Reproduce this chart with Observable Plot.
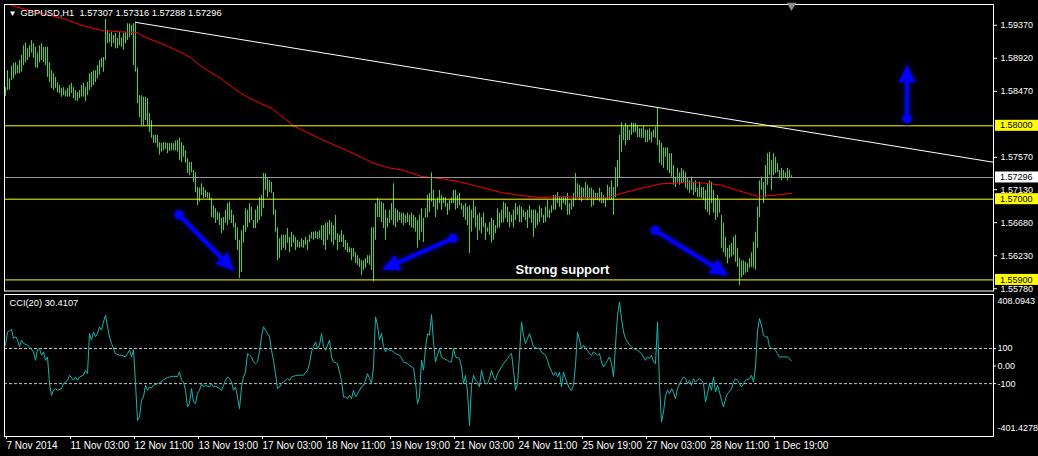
<!DOCTYPE html>
<html><head><meta charset="utf-8">
<script src="https://cdn.jsdelivr.net/npm/d3@7"></script>
<script src="https://cdn.jsdelivr.net/npm/@observablehq/plot@0.6"></script>
<style>
html,body{margin:0;padding:0;background:#000;}
#wrap{position:relative;width:1038px;height:456px;background:#000;overflow:hidden;font-family:"Liberation Sans",Arial,sans-serif;}
#wrap svg{position:absolute;left:0;}
#wrap svg text{white-space:pre;}
</style>
</head><body><div id="wrap"></div>
<script>
// ---------- data ----------
const symbolName = "GBPUSD,H1";
const lastOHLC = [1.57307, 1.57316, 1.57288, 1.57296];
const bidPrice = 1.57296;
const levelPrices = [1.5800, 1.5700, 1.5590];
const priceTicks = [1.5937, 1.5892, 1.5847, 1.5757, 1.5713, 1.5668, 1.5623, 1.5578];
const priceView = [1.55749, 1.59653];

const barHigh = [
1.5852,1.5875,1.5864,1.5881,1.5885,1.5886,1.5882,1.5889,1.5896,1.5909,
1.5913,1.5905,1.5909,1.5916,1.5912,1.5907,1.5899,1.5909,1.5912,1.5907,
1.5907,1.5907,1.5886,1.5875,1.5871,1.5866,1.5859,1.5855,1.5851,1.5852,
1.5848,1.5851,1.5855,1.5858,1.5852,1.5848,1.5845,1.5848,1.5855,1.5858,
1.5852,1.5859,1.5871,1.5873,1.5875,1.5875,1.5882,1.5889,1.5892,1.5893,
1.5945,1.5930,1.5926,1.5927,1.5923,1.5926,1.5919,1.5927,1.5920,1.5926,
1.5927,1.5939,1.5939,1.5937,1.5939,1.5941,1.5879,1.5841,1.5841,1.5839,
1.5839,1.5837,1.5817,1.5807,1.5787,1.5787,1.5787,1.5777,1.5776,1.5777,
1.5777,1.5776,1.5776,1.5776,1.5776,1.5779,1.5780,1.5783,1.5777,1.5773,
1.5766,1.5755,1.5750,1.5750,1.5739,1.5736,1.5716,1.5715,1.5721,1.5716,
1.5712,1.5709,1.5708,1.5701,1.5691,1.5687,1.5682,1.5681,1.5674,1.5675,
1.5685,1.5694,1.5696,1.5685,1.5678,1.5667,1.5661,1.5644,1.5657,1.5664,
1.5687,1.5685,1.5694,1.5689,1.5671,1.5685,1.5691,1.5702,1.5705,1.5735,
1.5735,1.5728,1.5725,1.5723,1.5709,1.5685,1.5661,1.5646,1.5651,1.5651,
1.5651,1.5660,1.5648,1.5655,1.5651,1.5648,1.5644,1.5641,1.5646,1.5644,
1.5648,1.5644,1.5651,1.5655,1.5655,1.5656,1.5655,1.5657,1.5664,1.5664,
1.5667,1.5668,1.5671,1.5668,1.5664,1.5678,1.5653,1.5651,1.5657,1.5651,
1.5644,1.5640,1.5634,1.5633,1.5633,1.5627,1.5623,1.5619,1.5616,1.5616,
1.5619,1.5623,1.5623,1.5661,1.5661,1.5694,1.5701,1.5698,1.5696,1.5694,
1.5685,1.5674,1.5685,1.5694,1.5721,1.5687,1.5685,1.5682,1.5681,1.5681,
1.5678,1.5681,1.5678,1.5681,1.5678,1.5675,1.5671,1.5678,1.5687,1.5674,
1.5687,1.5705,1.5708,1.5736,1.5712,1.5698,1.5702,1.5712,1.5705,1.5702,
1.5702,1.5694,1.5698,1.5702,1.5712,1.5712,1.5705,1.5708,1.5694,1.5691,
1.5694,1.5689,1.5691,1.5685,1.5698,1.5689,1.5678,1.5681,1.5675,1.5681,
1.5667,1.5661,1.5668,1.5674,1.5671,1.5664,1.5687,1.5681,1.5685,1.5696,
1.5694,1.5689,1.5682,1.5678,1.5685,1.5694,1.5689,1.5691,1.5689,1.5685,
1.5682,1.5685,1.5691,1.5685,1.5685,1.5685,1.5681,1.5691,1.5687,1.5678,
1.5689,1.5698,1.5685,1.5691,1.5705,1.5705,1.5709,1.5702,1.5702,1.5702,
1.5702,1.5708,1.5694,1.5698,1.5708,1.5735,1.5721,1.5719,1.5716,1.5715,
1.5723,1.5719,1.5715,1.5715,1.5712,1.5708,1.5708,1.5715,1.5709,1.5705,
1.5701,1.5719,1.5716,1.5725,1.5716,1.5743,1.5753,1.5787,1.5804,1.5798,
1.5803,1.5800,1.5794,1.5804,1.5803,1.5803,1.5800,1.5796,1.5796,1.5800,
1.5794,1.5794,1.5796,1.5791,1.5794,1.5798,1.5825,1.5780,1.5776,1.5770,
1.5770,1.5770,1.5762,1.5762,1.5746,1.5730,1.5742,1.5736,1.5742,1.5739,
1.5736,1.5728,1.5725,1.5730,1.5723,1.5725,1.5715,1.5723,1.5716,1.5716,
1.5712,1.5721,1.5725,1.5723,1.5712,1.5701,1.5705,1.5698,1.5678,1.5667,
1.5648,1.5633,1.5637,1.5640,1.5648,1.5651,1.5633,1.5619,1.5616,1.5616,
1.5614,1.5612,1.5619,1.5627,1.5641,1.5655,1.5689,1.5725,1.5730,1.5723,
1.5746,1.5762,1.5764,1.5753,1.5762,1.5757,1.5749,1.5739,1.5742,1.5739,
1.5736,1.5742,1.5739,1.5732];

const barLow = [
1.5840,1.5848,1.5849,1.5862,1.5864,1.5869,1.5871,1.5871,1.5873,1.5882,
1.5886,1.5889,1.5893,1.5899,1.5892,1.5879,1.5878,1.5886,1.5889,1.5886,
1.5882,1.5866,1.5859,1.5851,1.5848,1.5851,1.5845,1.5844,1.5839,1.5841,
1.5839,1.5839,1.5839,1.5844,1.5837,1.5834,1.5833,1.5837,1.5839,1.5839,
1.5833,1.5841,1.5848,1.5852,1.5855,1.5859,1.5864,1.5869,1.5879,1.5873,
1.5889,1.5912,1.5913,1.5907,1.5912,1.5905,1.5905,1.5909,1.5907,1.5903,
1.5912,1.5916,1.5920,1.5923,1.5882,1.5873,1.5830,1.5811,1.5800,1.5800,
1.5807,1.5800,1.5791,1.5783,1.5776,1.5776,1.5770,1.5760,1.5764,1.5766,
1.5768,1.5762,1.5765,1.5766,1.5766,1.5766,1.5764,1.5753,1.5750,1.5757,
1.5749,1.5735,1.5732,1.5736,1.5723,1.5709,1.5691,1.5696,1.5705,1.5701,
1.5702,1.5701,1.5698,1.5675,1.5674,1.5667,1.5671,1.5664,1.5653,1.5657,
1.5667,1.5664,1.5671,1.5667,1.5661,1.5644,1.5630,1.5592,1.5600,1.5640,
1.5655,1.5661,1.5667,1.5671,1.5660,1.5660,1.5667,1.5671,1.5676,1.5687,
1.5712,1.5702,1.5709,1.5708,1.5678,1.5655,1.5616,1.5619,1.5630,1.5633,
1.5630,1.5640,1.5627,1.5634,1.5640,1.5630,1.5634,1.5633,1.5634,1.5633,
1.5637,1.5630,1.5641,1.5646,1.5644,1.5646,1.5645,1.5646,1.5644,1.5637,
1.5630,1.5644,1.5651,1.5641,1.5637,1.5644,1.5630,1.5641,1.5641,1.5634,
1.5630,1.5627,1.5627,1.5616,1.5621,1.5612,1.5610,1.5607,1.5596,1.5603,
1.5606,1.5612,1.5610,1.5603,1.5587,1.5644,1.5675,1.5675,1.5668,1.5660,
1.5644,1.5661,1.5667,1.5671,1.5664,1.5661,1.5668,1.5671,1.5667,1.5664,
1.5667,1.5668,1.5664,1.5661,1.5660,1.5655,1.5633,1.5644,1.5655,1.5641,
1.5674,1.5675,1.5682,1.5696,1.5689,1.5675,1.5685,1.5694,1.5685,1.5694,
1.5689,1.5678,1.5685,1.5694,1.5694,1.5685,1.5687,1.5691,1.5685,1.5675,
1.5671,1.5664,1.5626,1.5655,1.5674,1.5661,1.5644,1.5657,1.5653,1.5661,
1.5644,1.5655,1.5651,1.5640,1.5644,1.5653,1.5660,1.5661,1.5667,1.5668,
1.5674,1.5668,1.5661,1.5668,1.5661,1.5671,1.5678,1.5668,1.5668,1.5675,
1.5671,1.5660,1.5674,1.5667,1.5648,1.5660,1.5664,1.5668,1.5675,1.5667,
1.5668,1.5675,1.5674,1.5681,1.5685,1.5685,1.5694,1.5689,1.5685,1.5694,
1.5691,1.5678,1.5678,1.5685,1.5689,1.5698,1.5701,1.5698,1.5696,1.5702,
1.5701,1.5698,1.5701,1.5689,1.5691,1.5698,1.5698,1.5696,1.5694,1.5694,
1.5689,1.5698,1.5698,1.5698,1.5678,1.5702,1.5716,1.5728,1.5764,1.5780,
1.5773,1.5780,1.5780,1.5787,1.5790,1.5791,1.5784,1.5784,1.5783,1.5783,
1.5777,1.5777,1.5780,1.5777,1.5784,1.5783,1.5773,1.5749,1.5746,1.5742,
1.5757,1.5739,1.5735,1.5730,1.5719,1.5716,1.5723,1.5719,1.5721,1.5723,
1.5715,1.5712,1.5708,1.5712,1.5705,1.5709,1.5702,1.5702,1.5701,1.5698,
1.5685,1.5682,1.5678,1.5694,1.5681,1.5671,1.5675,1.5681,1.5633,1.5627,
1.5621,1.5612,1.5619,1.5621,1.5623,1.5614,1.5607,1.5582,1.5593,1.5596,
1.5599,1.5600,1.5606,1.5607,1.5606,1.5603,1.5633,1.5675,1.5712,1.5694,
1.5702,1.5719,1.5732,1.5712,1.5732,1.5735,1.5736,1.5728,1.5725,1.5728,
1.5728,1.5725,1.5728,1.5729];

// moving average (red) read at selected bars
const maBar = [3,8,29,38,48,58,66,68,78,88,93,99,108,114,121,128,133,144,156,171,178,184,191,198,208,218,228,238,248,258,268,278,288,301,308,318,328,343,353,358,366,376,384,393];
const maPrice = [1.5964,1.5960,1.5946,1.5937,1.5930,1.5928,1.5927,1.5923,1.5912,1.5900,1.5892,1.5879,1.5864,1.5851,1.5839,1.5830,1.5824,1.5800,1.5784,1.5766,1.5757,1.5749,1.5743,1.5740,1.5731,1.5728,1.5723,1.5716,1.5709,1.5705,1.5702,1.5704,1.5702,1.5702,1.5708,1.5715,1.5721,1.5723,1.5721,1.5719,1.5712,1.5704,1.5705,1.5708];

// resistance trend line anchors (ray to the right)
const trendBar = [65, 326];
const trendPrice = [1.5941, 1.5825];

// blue arrows
const arrowFromBar = [87, 224, 325, 451];
const arrowFromPrice = [1.5678, 1.5646, 1.5657, 1.5809];
const arrowToBar = [114, 189, 361, 451];
const arrowToPrice = [1.5603, 1.5604, 1.5596, 1.5881];

const noteText = ["Strong support"];
const noteBar = [255];
const notePrice = [1.5604];

// CCI(20)
const cciName = "CCI(20)";
const cciRange = [-401.4278, 408.0943];
const cciLevels = [100, -100];
const cciBar = [0,1,2,3,4,5,6,7,8,9,11,12,14,15,16,17,18,19,20,21,22,23,24,25,26,28,29,31,32,34,35,36,37,39,40,41,42,43,44,45,46,47,48,49,50,51,52,53,55,57,58,60,61,62,63,64,65,66,67,68,69,70,71,72,73,74,76,78,79,81,82,84,86,87,88,89,90,91,92,93,94,95,96,97,98,99,100,102,103,104,105,107,108,109,110,111,112,113,114,115,116,117,118,119,120,121,122,123,124,125,126,127,128,129,130,131,132,133,134,135,136,137,138,139,141,142,143,144,146,148,149,151,152,153,154,155,156,157,158,159,160,161,162,163,164,166,167,168,169,170,171,172,173,174,175,177,178,179,180,181,182,183,184,185,186,187,188,189,190,191,192,193,195,197,198,199,201,202,204,205,206,207,208,209,210,211,212,213,214,215,216,217,218,219,221,222,223,224,225,227,228,229,230,231,232,233,234,235,236,237,238,239,240,241,242,243,244,245,246,248,249,251,252,253,254,255,256,257,258,259,260,261,262,263,264,266,267,268,270,271,272,274,275,276,277,278,279,280,281,282,283,284,285,286,287,288,289,290,291,292,293,294,296,297,298,299,300,301,302,303,304,305,306,307,308,309,310,312,313,314,316,318,319,320,321,322,323,324,325,326,327,328,329,330,331,332,333,334,335,336,337,338,339,340,341,342,343,344,345,346,347,348,349,350,351,352,353,354,355,356,357,358,359,360,361,363,364,365,366,367,368,369,370,372,373,374,375,376,377,378,379,380,381,382,383,384,385,386,387,389,391,393];
const cciValue = [119,195,201,209,157,167,148,110,148,129,119,110,81,33,94,100,62,81,33,52,-100,-167,-138,-128,-138,-128,-100,-81,-52,-81,-62,-81,-62,-52,-24,-43,186,148,195,167,186,224,205,252,290,224,167,129,71,62,62,52,71,90,52,94,-100,-310,-290,-195,-176,-110,-138,-119,-125,-110,-100,-90,-77,-66,-62,-58,-60,-33,-81,-90,-138,-233,-214,-128,-205,-214,-157,-138,-100,-119,-110,-119,-100,-119,-115,-128,-138,-110,-81,-62,-71,-90,-138,-119,-176,-243,-119,-62,-33,71,62,52,24,14,24,81,167,224,205,186,167,90,33,-43,-128,-119,-100,-90,-71,-81,-62,-58,-52,-52,-52,-24,14,81,110,138,100,120,186,110,90,119,148,52,24,14,-33,-81,-176,-176,-186,-167,-186,-138,-176,-138,-119,-110,-81,-43,-71,-100,-5,281,233,148,186,110,81,100,90,90,71,62,45,24,14,5,-10,-91,-214,-176,33,-24,100,185,176,294,138,24,62,100,52,43,33,24,24,100,52,43,-5,-100,-53,-148,-339,-110,-53,-81,-91,-119,-24,-72,-100,-100,-72,-24,-62,-81,-43,-5,14,43,62,71,-24,-138,-100,62,252,176,128,157,185,148,110,100,100,81,62,33,-5,-53,-34,-62,-34,-119,-34,-72,-100,-129,-138,-110,5,195,148,100,119,100,90,71,62,81,62,71,24,-5,14,33,52,14,-60,119,290,366,271,195,157,119,110,100,90,71,52,33,52,43,62,24,14,252,-110,-319,-262,-167,-138,-157,-129,-150,-186,-129,-100,-81,-62,-70,-100,-81,-110,-72,-91,-80,-72,-80,-100,-205,-157,-100,-138,-62,-148,-110,-148,-195,-233,-186,-157,-129,-91,-72,-81,-100,-119,-100,-81,-72,-53,-91,-5,200,271,233,176,167,167,110,100,100,90,71,52,52,52,30.4107];

// time axis
const timeTickBars = [0,32,64,96,128,160,192,224,256,288,320,352,384];
const timeTickLabels = ["7 Nov 2014","11 Nov 03:00","12 Nov 11:00","13 Nov 19:00","17 Nov 03:00","18 Nov 11:00","19 Nov 19:00","21 Nov 03:00","24 Nov 11:00","25 Nov 19:00","27 Nov 03:00","28 Nov 11:00","1 Dec 19:00"];

// ---------- build ----------
const xDomain = [-0.5, 494];
const FONT = '"Liberation Sans", Arial, sans-serif';
const bars = barHigh.map((h, i) => ({i, high: h, low: barLow[i]}));
const maRows = maBar.map((b, k) => ({b, p: maPrice[k]}));
const slope = (trendPrice[1] - trendPrice[0]) / (trendBar[1] - trendBar[0]);
const trendRows = [
  {b: trendBar[0], p: trendPrice[0]},
  {b: xDomain[1], p: trendPrice[0] + slope * (xDomain[1] - trendBar[0])}
];
const cciRows = cciBar.map((b, k) => ({b, v: cciValue[k]}));
const lastBar = barHigh.length - 1;

function arrowsMark(index, scales) {
  const g = d3.create("svg:g");
  const defs = g.append("defs");
  defs.append("filter").attr("id", "glow").attr("x", "-50%").attr("y", "-50%").attr("width", "200%").attr("height", "200%")
    .append("feGaussianBlur").attr("stdDeviation", 2);
  for (let k = 0; k < arrowFromBar.length; k++) {
    const x1 = scales.x(arrowFromBar[k]), y1 = scales.y(arrowFromPrice[k]);
    const x2 = scales.x(arrowToBar[k]), y2 = scales.y(arrowToPrice[k]);
    const dx = x2 - x1, dy = y2 - y1, len = Math.hypot(dx, dy), ux = dx / len, uy = dy / len;
    const hl = 16, hw = 7.5;
    const bx = x2 - ux * hl, by = y2 - uy * hl;
    const tri = `${x2},${y2} ${bx - uy * hw},${by + ux * hw} ${bx + uy * hw},${by - ux * hw}`;
    for (const layer of ["glow", "main"]) {
      const gg = g.append("g");
      if (layer === "glow") gg.attr("filter", "url(#glow)").attr("opacity", 0.7);
      const col = layer === "glow" ? "#00007a" : "#0000ff";
      const extra = layer === "glow" ? 3 : 0;
      gg.append("line").attr("x1", x1).attr("y1", y1).attr("x2", bx + ux * 2).attr("y2", by + uy * 2)
        .attr("stroke", col).attr("stroke-width", 4 + extra);
      gg.append("circle").attr("cx", x1).attr("cy", y1).attr("r", 4.5 + extra / 2).attr("fill", col);
      gg.append("polygon").attr("points", tri).attr("fill", col).attr("stroke", col).attr("stroke-width", 1 + extra);
    }
  }
  return g.node();
}

function labelBoxes(index, scales, values, dims) {
  const g = d3.create("svg:g");
  const x0 = dims.width - dims.marginRight + 2;
  const items = levelPrices.map(v => ({v, bg: "#ffff00"})).concat([{v: bidPrice, bg: "#ffffff"}]);
  for (const it of items) {
    const y = scales.y(it.v);
    g.append("rect").attr("x", x0).attr("y", y - 5.5).attr("width", dims.width - x0).attr("height", 11).attr("fill", it.bg);
    g.append("text").attr("x", x0 + 5).attr("y", y).attr("dy", "0.35em").attr("fill", "#000")
      .attr("text-anchor", "start").attr("font-size", 9).attr("font-family", FONT).text(it.v.toFixed(5));
  }
  return g.node();
}

const main = Plot.plot({
  width: 1038, height: 292,
  marginLeft: 4, marginRight: 45, marginTop: 4, marginBottom: 1.5,
  style: {background: "transparent", color: "#ffffff", fontFamily: FONT, fontSize: "9px", overflow: "visible"},
  x: {domain: xDomain, axis: null},
  y: {domain: priceView, axis: null},
  marks: [
    Plot.ruleX(bars, {x: "i", y1: "low", y2: "high", stroke: "#33dd33", strokeWidth: 1}),
    Plot.line(maRows, {x: "b", y: "p", stroke: "#ff0000", strokeWidth: 1, clip: true}),
    Plot.ruleY([bidPrice], {stroke: "#9c9c9c"}),
    Plot.ruleY(levelPrices, {stroke: "#ffff00"}),
    Plot.line(trendRows, {x: "b", y: "p", stroke: "#ffffff", strokeWidth: 1, clip: true}),
    arrowsMark,
    Plot.text(noteText, {x: (d, k) => noteBar[k], y: (d, k) => notePrice[k], text: d => d, textAnchor: "start",
      fill: "#ffffff", fontSize: 13, fontWeight: "bold"}),
    Plot.frame({stroke: "#ffffff"}),
    Plot.axisY({anchor: "right", label: null, ticks: priceTicks, tickFormat: d => d.toFixed(5), tickSize: 3, tickPadding: 4, fontSize: 9}),
    labelBoxes,
    Plot.text(["\u25BC"], {frameAnchor: "top-left", dx: 4, dy: 9, textAnchor: "start", lineAnchor: "middle", fontSize: 8, fill: "#ffffff"}),
    Plot.text([`${symbolName}  ${lastOHLC.map(v => v.toFixed(5)).join(" ")}`], {frameAnchor: "top-left", dx: 16, dy: 9,
      textAnchor: "start", lineAnchor: "middle", fontSize: 9.3, fill: "#ffffff"}),
    Plot.dot([lastBar], {x: d => d, frameAnchor: "top", symbol: "triangle", r: 3.5, fill: "#8c8c8c", rotate: 180, dy: 1})
  ]
});

const cci = Plot.plot({
  width: 1038, height: 164,
  marginLeft: 4, marginRight: 45, marginTop: 2, marginBottom: 20,
  style: {background: "transparent", color: "#ffffff", fontFamily: FONT, fontSize: "9px", overflow: "visible"},
  x: {domain: xDomain, axis: null},
  y: {domain: cciRange, axis: null},
  marks: [
    Plot.ruleY(cciLevels, {stroke: "#c8c8c8", strokeDasharray: "3,2"}),
    Plot.line(cciRows, {x: "b", y: "v", stroke: "#20b2aa", strokeWidth: 1}),
    Plot.frame({stroke: "#ffffff"}),
    Plot.axisY({anchor: "right", label: null, ticks: [100, 0, -100], tickFormat: d => d === 0 ? "0.00" : String(d), tickSize: 2, tickPadding: 2, fontSize: 9}),
    Plot.text([cciRange[1]], {frameAnchor: "top-right", text: d => d.toFixed(4), dx: 4, dy: 7, textAnchor: "start", lineAnchor: "middle", fontSize: 9, fill: "#ffffff"}),
    Plot.text([cciRange[0]], {frameAnchor: "bottom-right", text: d => d.toFixed(4), dx: 4, dy: -8, textAnchor: "start", lineAnchor: "middle", fontSize: 9, fill: "#ffffff"}),
    Plot.text([`${cciName} ${cciValue[cciValue.length - 1].toFixed(4)}`], {frameAnchor: "top-left", dx: 5, dy: 9, textAnchor: "start", lineAnchor: "middle", fontSize: 9.3, fill: "#ffffff"}),
    Plot.axisX({anchor: "bottom", label: null, ticks: timeTickBars, tickFormat: d => timeTickLabels[timeTickBars.indexOf(d)],
      tickSize: 3, tickPadding: 2, textAnchor: "start", dx: 1, fontSize: 10})
  ]
});

const wrap = document.getElementById("wrap");
main.style.top = "0px";
cci.style.top = "292px";
wrap.appendChild(main);
wrap.appendChild(cci);
</script>
</body></html>
